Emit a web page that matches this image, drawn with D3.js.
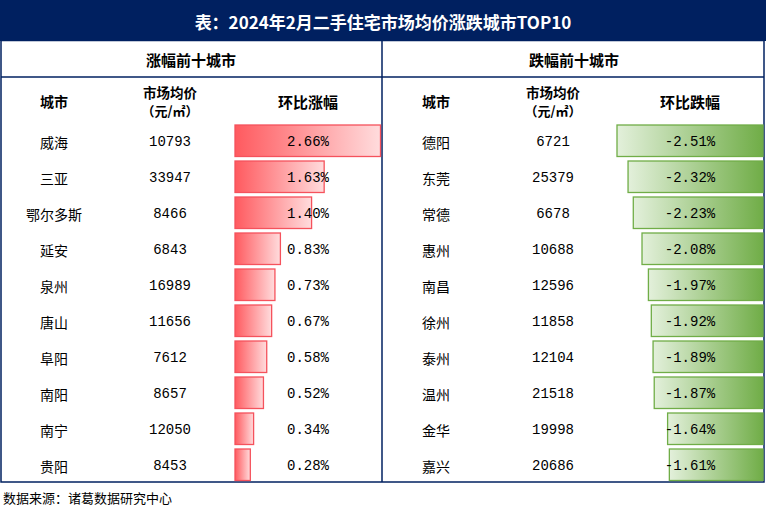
<!DOCTYPE html>
<html><head><meta charset="utf-8">
<script src="https://cdn.jsdelivr.net/npm/d3@7/dist/d3.min.js"></script>
<style>body{margin:0;background:#fff}svg{display:block}</style>
</head><body>
<script>
const title = "表：2024年2月二手住宅市场均价涨跌城市TOP10";
const source = "数据来源：诸葛数据研究中心";
const riseCities = ["威海","三亚","鄂尔多斯","延安","泉州","唐山","阜阳","南阳","南宁","贵阳"];
const risePrices = [10793,33947,8466,6843,16989,11656,7612,8657,12050,8453];
const riseRates = [2.66,1.63,1.40,0.83,0.73,0.67,0.58,0.52,0.34,0.28];
const fallCities = ["德阳","东莞","常德","惠州","南昌","徐州","泰州","温州","金华","嘉兴"];
const fallPrices = [6721,25379,6678,10688,12596,11858,12104,21518,19998,20686];
const fallRates = [-2.51,-2.32,-2.23,-2.08,-1.97,-1.92,-1.89,-1.87,-1.64,-1.61];

const W = 766, H = 512, navy = "#002060";
const cjk = "'Noto Sans CJK SC','Noto Sans',sans-serif";
const mono = "'Liberation Mono','DejaVu Sans Mono',monospace";
const svg = d3.select("body").append("svg").attr("width", W).attr("height", H);
const defs = svg.append("defs");
const gr = defs.append("linearGradient").attr("id","gRed");
gr.append("stop").attr("offset","0%").attr("stop-color","#FF5A5F");
gr.append("stop").attr("offset","100%").attr("stop-color","#FFDCDD");
const gg = defs.append("linearGradient").attr("id","gGreen");
gg.append("stop").attr("offset","0%").attr("stop-color","#E3F0DB");
gg.append("stop").attr("offset","100%").attr("stop-color","#70AD47");

// title bar
svg.append("rect").attr("x",0).attr("y",0).attr("width",W).attr("height",41).attr("fill",navy);
svg.append("text").attr("x",383).attr("y",21).attr("text-anchor","middle").attr("dominant-baseline","central")
  .attr("fill","#fff").attr("font-family",cjk).attr("font-size",17).attr("font-weight","bold").text(title);

// frame
const fr = svg.append("g").attr("stroke",navy).attr("fill","none").attr("stroke-width",1.5);
fr.append("rect").attr("x",1).attr("y",40.5).attr("width",763).attr("height",441.5);
fr.append("line").attr("x1",382).attr("x2",382).attr("y1",40).attr("y2",482);
fr.append("line").attr("x1",1).attr("x2",764).attr("y1",77).attr("y2",77);

const y = d3.scaleBand().domain(d3.range(10)).range([125, 480.5]).paddingInner(0.125);

function headers(cx, sec, c1, c2, c3, rate){
  const g = svg.append("g").attr("font-family",cjk).attr("font-weight","bold").attr("fill","#000").attr("text-anchor","middle");
  g.append("text").attr("x",cx).attr("y",59).attr("dominant-baseline","central").attr("font-size",15).text(sec);
  g.append("text").attr("x",c1).attr("y",101).attr("dominant-baseline","central").attr("font-size",14).text("城市");
  g.append("text").attr("x",c2).attr("y",92).attr("dominant-baseline","central").attr("font-size",13.5).text("市场均价");
  g.append("text").attr("x",c2).attr("y",110).attr("dominant-baseline","central").attr("font-size",13).text("（元/㎡）");
  g.append("text").attr("x",c3).attr("y",101).attr("dominant-baseline","central").attr("font-size",15).text(rate);
}
headers(191, "涨幅前十城市", 54, 170, 308, "环比涨幅");
headers(574, "跌幅前十城市", 436, 553, 690, "环比跌幅");

function rows(cities, prices, rates, c1, c2, c3, xs, barX, right, fill, stroke){
  const g = svg.append("g");
  g.selectAll("rect.bar").data(rates).join("rect").attr("class","bar")
    .attr("x",(d)=> right ? barX - xs(Math.abs(d)) : barX)
    .attr("y",(d,i)=>y(i)).attr("width",d=>xs(Math.abs(d))).attr("height",y.bandwidth())
    .attr("fill",fill).attr("stroke",stroke).attr("stroke-width",1.3);
  const cy = i => y(i) + y.bandwidth()/2 + 1.5;
  g.selectAll("text.c").data(cities).join("text").attr("class","c")
    .attr("x",c1).attr("y",(d,i)=>cy(i)).attr("text-anchor","middle").attr("dominant-baseline","central")
    .attr("font-family",cjk).attr("font-size",14).text(d=>d);
  g.selectAll("text.p").data(prices).join("text").attr("class","p")
    .attr("x",c2).attr("y",(d,i)=>cy(i)).attr("text-anchor","middle").attr("dominant-baseline","central")
    .attr("font-family",mono).attr("font-size",14).text(d=>d);
  g.selectAll("text.r").data(rates).join("text").attr("class","r")
    .attr("x",c3).attr("y",(d,i)=>cy(i)).attr("text-anchor","middle").attr("dominant-baseline","central")
    .attr("font-family",mono).attr("font-size",14).text(d=>d.toFixed(2)+"%");
}
const xL = d3.scaleLinear().domain([0, d3.max(riseRates)]).range([0, 145.5]);
const xR = d3.scaleLinear().domain([0, d3.max(fallRates, d=>Math.abs(d))]).range([0, 146]);
rows(riseCities, risePrices, riseRates, 54, 170, 308, xL, 235, false, "url(#gRed)", "#F5525C");
rows(fallCities, fallPrices, fallRates, 436, 553, 690, xR, 763, true, "url(#gGreen)", "#70AD47");

svg.append("text").attr("x",3).attr("y",497).attr("dominant-baseline","central")
  .attr("font-family",cjk).attr("font-size",13).attr("fill","#000").text(source);
</script>
</body></html>
